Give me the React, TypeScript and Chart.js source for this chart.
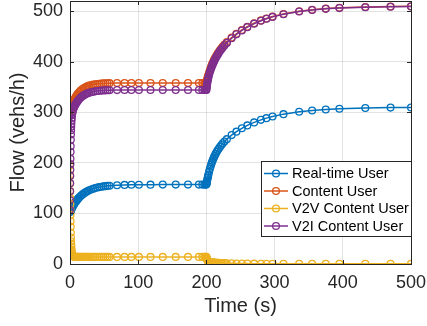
import React, { useEffect, useRef } from 'react';
import { Chart, registerables } from 'chart.js';

Chart.register(...registerables);

const seriesNames = ['Real-time User', 'Content User', 'V2V Content User', 'V2I Content User'];
const seriesColors = ['#0072BD', '#D95319', '#EDB120', '#7E2F8E'];

const xTickValues = [0, 100, 200, 300, 400, 500];
const yTickValues = [0, 100, 200, 300, 400, 500];

const time = [
  0, 0.1, 0.2, 0.3, 0.4, 0.5, 0.6, 0.7, 0.85, 1,
  1.2, 1.4, 1.6, 1.8, 2, 2.3, 2.6, 3, 3.5, 4,
  5, 6, 7, 8, 9, 10, 11, 12, 14, 16, 18, 20, 22, 24, 26, 28,
  31, 34, 37, 40, 43, 46, 49, 52, 55, 58,
  69, 80, 90, 101, 118, 136, 155, 173, 189, 194, 197, 199,
  200, 200.25, 200.5, 200.75, 201, 201.5, 202, 202.5, 203,
  204, 205, 206, 207, 208, 209, 210, 211, 212,
  213.5, 215, 216.5, 218, 220, 222, 224, 226.5, 230,
  237, 244, 252, 260, 270, 280, 288, 297,
  313, 336, 355, 375, 395, 433, 470, 500,
];

const realTimeUser = [
  103.0, 103.3, 103.6, 103.9, 104.2, 104.5, 104.8, 105.1, 105.5, 105.9,
  106.5, 107.0, 107.6, 108.1, 108.7, 109.5, 110.3, 111.3, 112.6, 113.8,
  116.1, 118.3, 120.4, 122.4, 124.2, 126.0, 127.7, 129.3, 132.2, 134.8, 137.1, 139.2, 141.1, 142.8, 144.3, 145.6,
  147.3, 148.8, 150.1, 151.2, 152.0, 152.8, 153.4, 154.0, 154.5, 154.8,
  155.8, 156.4, 156.6, 156.8, 156.9, 157.0, 157.0, 157.0, 157.0, 157.0, 157.0, 157.0,
  157.0, 158.9, 160.7, 162.6, 164.3, 167.7, 171.0, 174.1, 177.0,
  182.6, 187.6, 192.3, 196.6, 200.5, 204.2, 207.6, 210.7, 213.7,
  217.7, 221.4, 224.8, 228.0, 231.8, 235.3, 238.5, 242.2, 246.9,
  254.9, 261.7, 268.3, 274.0, 280.0, 285.0, 288.4, 291.6,
  296.3, 301.0, 303.6, 305.6, 306.9, 308.5, 309.2, 309.5,
];

const contentUser = [
  302.0, 302.5, 302.9, 303.4, 303.8, 304.3, 304.7, 305.2, 305.8, 306.5,
  307.3, 308.2, 309.0, 309.8, 310.6, 311.8, 312.9, 314.4, 316.2, 317.9,
  321.1, 324.0, 326.8, 329.3, 331.6, 333.6, 335.6, 337.4, 340.6, 343.2, 345.5, 347.4, 349.0, 350.4, 351.6, 352.6,
  353.8, 354.7, 355.4, 356.0, 356.4, 356.8, 357.1, 357.3, 357.4, 357.6,
  357.8, 358.0, 358.0, 358.0, 358.0, 358.0, 358.0, 358.0, 358.0, 358.0, 358.0, 358.0,
  358.0, 359.5, 360.9, 362.4, 363.8, 366.5, 369.1, 371.6, 374.0,
  378.5, 382.7, 386.6, 390.3, 393.7, 396.9, 399.9, 402.8, 405.5,
  409.2, 412.8, 416.1, 419.1, 423.0, 426.5, 429.9, 433.8, 438.8,
  447.6, 455.2, 462.7, 469.1, 475.9, 481.6, 485.5, 489.2,
  494.4, 499.7, 502.7, 505.0, 506.5, 508.2, 509.1, 509.5,
];

const v2vContentUser = [
  195.0, 176.0, 159.0, 143.8, 130.0, 117.9, 106.9, 97.1, 84.4, 73.6,
  61.8, 52.2, 44.6, 38.5, 33.5, 28.1, 24.1, 20.5, 17.7, 16.1,
  14.7, 14.2, 14.1, 14.0, 14.0, 14.0, 14.0, 14.0, 14.0, 14.0, 14.0, 14.0, 14.0, 14.0, 14.0, 14.0,
  14.0, 14.0, 14.0, 14.0, 14.0, 14.0, 14.0, 14.0, 14.0, 14.0,
  14.0, 14.0, 14.0, 14.0, 14.0, 14.0, 14.0, 14.0, 14.0, 14.0, 14.0, 14.0,
  14.0, 12.4, 11.1, 10.0, 9.0, 7.5, 6.4, 5.6, 5.0,
  4.2, 3.7, 3.4, 3.2, 3.1, 3.0, 2.9, 2.8, 2.7,
  2.5, 2.4, 2.3, 2.2, 2.1, 2.0, 1.8, 1.7, 1.6,
  1.3, 1.1, 0.9, 0.8, 0.7, 0.6, 0.6, 0.6,
  0.5, 0.5, 0.5, 0.5, 0.5, 0.5, 0.5, 0.5,
];

const v2iContentUser = [
  107.0, 126.5, 143.9, 159.6, 173.8, 186.4, 197.8, 208.1, 221.4, 232.9,
  245.5, 256.0, 264.4, 271.3, 277.1, 283.7, 288.8, 293.9, 298.5, 301.8,
  306.4, 309.8, 312.7, 315.3, 317.6, 319.6, 321.6, 323.4, 326.6, 329.2, 331.5, 333.4, 335.0, 336.4, 337.6, 338.6,
  339.8, 340.7, 341.4, 342.0, 342.4, 342.8, 343.1, 343.3, 343.4, 343.6,
  343.8, 344.0, 344.0, 344.0, 344.0, 344.0, 344.0, 344.0, 344.0, 344.0, 344.0, 344.0,
  344.0, 347.1, 349.8, 352.4, 354.8, 359.0, 362.7, 366.0, 369.0,
  374.3, 379.0, 383.2, 387.1, 390.6, 393.9, 397.0, 400.0, 402.8,
  406.7, 410.4, 413.8, 416.9, 420.9, 424.5, 428.1, 432.1, 437.2,
  446.3, 454.1, 461.8, 468.3, 475.2, 481.0, 484.9, 488.6,
  493.9, 499.2, 502.2, 504.5, 506.0, 507.7, 508.6, 509.0,
];

const seriesValues = [realTimeUser, contentUser, v2vContentUser, v2iContentUser];

const FONT = '"Liberation Sans", Arial, Helvetica, sans-serif';
const AXIS_COLOR = '#262626';
const GRID_COLOR = 'rgba(38,38,38,0.13)';
const MARKER_R = 3.4;

export default function App() {
  const ref = useRef<HTMLCanvasElement>(null);

  useEffect(() => {
    document.body.style.margin = '0';
    const canvas = ref.current;
    if (!canvas) return;

    const datasets = seriesValues.map((vals, i) => ({
      label: seriesNames[i],
      data: time.map((t, j) => ({ x: t, y: vals[j] })),
      borderColor: seriesColors[i],
      backgroundColor: 'rgba(0,0,0,0)',
      pointBorderColor: seriesColors[i],
      pointBackgroundColor: 'rgba(0,0,0,0)',
      borderWidth: 1.5,
      pointRadius: MARKER_R,
      pointBorderWidth: 1.3,
      pointStyle: 'circle',
      tension: 0,
      fill: false,
      order: 4 - i,
    }));

    const framePlugin = {
      id: 'matlabFrame',
      afterDatasetsDraw(chart: any) {
        const { ctx, chartArea, scales } = chart;
        const { left, right, top, bottom } = chartArea;
        ctx.save();
        ctx.strokeStyle = AXIS_COLOR;
        ctx.lineWidth = 1;
        ctx.strokeRect(Math.round(left) + 0.5, Math.round(top) + 0.5, Math.round(right - left), Math.round(bottom - top));
        const tl = 4;
        ctx.beginPath();
        scales.x.ticks.forEach((tk: any) => {
          const px = Math.round(scales.x.getPixelForValue(tk.value)) + 0.5;
          ctx.moveTo(px, bottom);
          ctx.lineTo(px, bottom - tl);
          ctx.moveTo(px, top);
          ctx.lineTo(px, top + tl);
        });
        scales.y.ticks.forEach((tk: any) => {
          const py = Math.round(scales.y.getPixelForValue(tk.value)) + 0.5;
          ctx.moveTo(left, py);
          ctx.lineTo(left + tl, py);
          ctx.moveTo(right, py);
          ctx.lineTo(right - tl, py);
        });
        ctx.stroke();
        ctx.restore();
      },
      afterDraw(chart: any) {
        const { ctx, chartArea } = chart;
        const w = 150;
        const h = 75;
        const x0 = Math.round(chartArea.right - w);
        const y0 = Math.round(chartArea.top + 160);
        ctx.save();
        ctx.fillStyle = '#ffffff';
        ctx.fillRect(x0, y0, w, h);
        ctx.strokeStyle = AXIS_COLOR;
        ctx.lineWidth = 1;
        ctx.strokeRect(x0 + 0.5, y0 + 0.5, w, h);
        ctx.font = `14.5px ${FONT}`;
        ctx.textBaseline = 'middle';
        ctx.textAlign = 'left';
        seriesNames.forEach((name, i) => {
          const cy = y0 + 12.5 + i * 17.5;
          ctx.strokeStyle = seriesColors[i];
          ctx.lineWidth = 1.5;
          ctx.beginPath();
          ctx.moveTo(x0 + 3, cy);
          ctx.lineTo(x0 + 27, cy);
          ctx.stroke();
          ctx.lineWidth = 1.3;
          ctx.beginPath();
          ctx.arc(x0 + 15, cy, MARKER_R, 0, Math.PI * 2);
          ctx.stroke();
          ctx.fillStyle = '#000000';
          ctx.fillText(name, x0 + 31, cy + 0.5);
        });
        ctx.restore();
      },
    };

    const chart = new Chart(canvas, {
      type: 'line',
      data: { datasets: datasets as any },
      options: {
        animation: false,
        responsive: false,
        devicePixelRatio: 1,
        layout: { autoPadding: false, padding: { top: 1, right: 16, left: 0, bottom: 0 } },
        plugins: { legend: { display: false }, tooltip: { enabled: false } },
        scales: {
          x: {
            type: 'linear',
            min: 0,
            max: 500,
            afterBuildTicks(scale: any) {
              scale.ticks = xTickValues.map((v) => ({ value: v }));
            },
            ticks: {
              stepSize: 100,
              includeBounds: false,
              padding: 8,
              maxRotation: 0,
              autoSkip: false,
              color: AXIS_COLOR,
              font: { family: FONT, size: 18 },
            },
            grid: { color: GRID_COLOR, drawTicks: false, lineWidth: 1 },
            border: { display: false },
            title: {
              display: true,
              text: 'Time (s)',
              color: AXIS_COLOR,
              font: { family: FONT, size: 20 },
              padding: { top: 0, bottom: 8 },
            },
            afterFit(scale: any) {
              scale.height = 62;
              scale.paddingLeft = 0;
              scale.paddingRight = 0;
            },
          },
          y: {
            type: 'linear',
            min: 0,
            max: 520,
            afterBuildTicks(scale: any) {
              scale.ticks = yTickValues.map((v) => ({ value: v }));
            },
            ticks: {
              stepSize: 100,
              includeBounds: false,
              padding: 7,
              autoSkip: false,
              color: AXIS_COLOR,
              font: { family: FONT, size: 18 },
            },
            grid: { color: GRID_COLOR, drawTicks: false, lineWidth: 1 },
            border: { display: false },
            title: {
              display: true,
              text: 'Flow (vehs/h)',
              color: AXIS_COLOR,
              font: { family: FONT, size: 20 },
              padding: { top: 6, bottom: 0 },
            },
            afterFit(scale: any) {
              scale.width = 70;
              scale.paddingTop = 0;
              scale.paddingBottom = 0;
            },
          },
        },
      },
      plugins: [framePlugin],
    });

    return () => chart.destroy();
  }, []);

  return (
    <div style={{ position: 'absolute', left: 0, top: 0, width: 427, height: 326, background: '#ffffff' }}>
      <canvas ref={ref} width={427} height={326} style={{ display: 'block', width: 427, height: 326 }} />
    </div>
  );
}
